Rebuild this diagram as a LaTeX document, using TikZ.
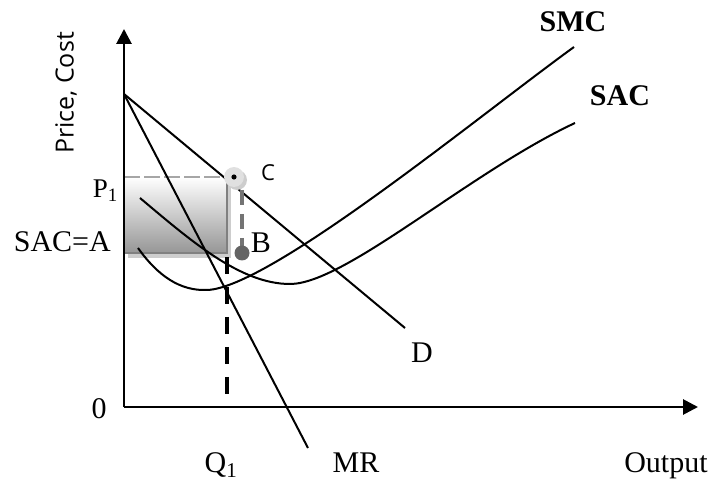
\documentclass[tikz,border=0pt]{standalone}
\usepackage{fontspec}
\setmainfont{Liberation Serif}
\newfontfamily\labelsans{Open Sans}
\usetikzlibrary{arrows.meta}
\definecolor{rectedge}{RGB}{128,128,128}
\definecolor{rectbot}{RGB}{150,150,150}
\definecolor{shadowgray}{RGB}{205,205,205}
\definecolor{bdot}{RGB}{100,100,100}
\tikzset{
  axisline/.style={line width=2.8pt, -{Triangle[length=15pt,width=15pt]}},
  curveline/.style={line width=2pt},
  lbl/.style={inner sep=0pt, font=\fontsize{30}{36}\selectfont},
  smalllbl/.style={inner sep=0pt, font=\fontsize{27}{30}\selectfont},
  sanslbl/.style={inner sep=0pt, font=\labelsans\fontsize{25}{28}\selectfont},
}
\begin{document}
\begin{tikzpicture}[x=1pt,y=-1pt]
\useasboundingbox (0,0) rectangle (713,481);
% coordinates
\coordinate (O) at (124,407);
\coordinate (ytop) at (124,29);
\coordinate (xend) at (698,407);
\coordinate (pint) at (124,94);
\coordinate (dend) at (405,328);
\coordinate (mrend) at (308,448);
\coordinate (cpt) at (234,177);
\coordinate (cshadow) at (237,180);
\coordinate (bpt) at (242,253);
\coordinate (qtop) at (227,257);
\coordinate (qbot) at (227,407);
% rectangle with shadow and gradient
\fill[shadowgray] (128,182) rectangle (231,258);
\shade[top color=white, bottom color=rectbot] (124,177) rectangle (227,253);
\draw[rectedge, line width=2.2pt] (227,177) -- (227,253) -- (124,253);
\draw[rectedge!70, line width=2.4pt, dash pattern=on 16pt off 4pt] (124,177) -- (cpt);
% axes
\draw[axisline] (O) -- (ytop);
\draw[axisline] (O) -- (xend);
% demand and MR
\draw[curveline] (pint) -- (dend);
\draw[curveline] (pint) -- (mrend);
% SMC
\draw[curveline] (138,248) .. controls (158,276) and (180,291) .. (207,290)
  .. controls (270,288) and (480,115) .. (574,47);
% SAC
\draw[curveline] (140,198) .. controls (190,240) and (240,284) .. (290,284)
  .. controls (345,284) and (470,172) .. (575,123);
% dashed verticals
\draw[bdot!90, line width=3.2pt, dash pattern=on 15pt off 9pt] (242,190) -- (242,246);
\draw[line width=3.4pt, dash pattern=on 17pt off 13pt] (qtop) -- (qbot);
% markers
\fill[shadowgray] (cshadow) circle (10);
\fill[black!12] (cpt) circle (10);
\fill[black] (cpt) circle (2.6);
\fill[bdot] (bpt) circle (7.5);
% labels
\node[sanslbl, rotate=90] (pc) at (66,93) {Price, Cost};
\node[sanslbl, font=\labelsans\fontsize{22}{26}\selectfont] (cl) at (268,173) {C};
\node[lbl] (bl) at (261,243) {B};
\node[lbl, font=\fontsize{30}{36}\selectfont\bfseries] (smcl) at (573,22) {SMC};
\node[lbl, font=\fontsize{30}{36}\selectfont\bfseries] (sacl) at (620,96) {SAC};
\node[smalllbl, anchor=base east] (p1) at (118,198) {P\textsubscript{1}};
\node[lbl, anchor=base east] (sacA) at (111,252) {SAC=A};
\node[lbl, anchor=base] (zero) at (99,418) {0};
\node[lbl] (dl) at (422,353) {D};
\node[lbl, anchor=base] (q1) at (221,472) {Q\textsubscript{1}};
\node[lbl, anchor=base] (mrl) at (356,472) {MR};
\node[lbl, anchor=base] (outl) at (666,472) {Output};
\end{tikzpicture}
\end{document}
